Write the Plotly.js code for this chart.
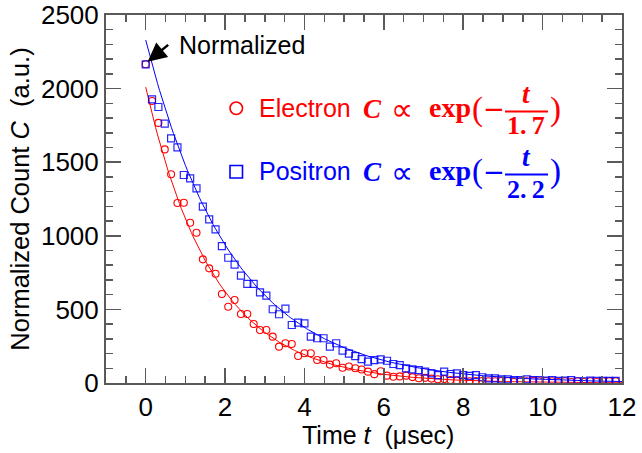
<!DOCTYPE html>
<html>
<head>
<meta charset="utf-8">
<script src="https://cdn.plot.ly/plotly-3.0.1.min.js"></script>
<style>html,body{margin:0;padding:0;background:#fff;}</style>
</head>
<body>
<div id="chart" style="width:642px;height:453px;"></div>
<script>
// Time bins (μsec)
const timeUs = [0,0.16,0.32,0.48,0.64,0.8,0.96,1.12,1.28,1.44,1.6,1.76,1.92,2.08,2.24,2.4,2.56,2.72,2.88,3.04,3.2,3.36,3.52,3.68,3.84,4,4.16,4.32,4.48,4.64,4.8,4.96,5.12,5.28,5.44,5.6,5.76,5.92,6.08,6.24,6.4,6.56,6.72,6.88,7.04,7.2,7.36,7.52,7.68,7.84,8,8.16,8.32,8.48,8.64,8.8,8.96,9.12,9.28,9.44,9.6,9.76,9.92,10.08,10.24,10.4,10.56,10.72,10.88,11.04,11.2,11.36,11.52,11.68,11.84];

// Normalized counts
const electronCounts = [2165,1916,1767,1587,1418,1223,1225,1089,1021,840,779,742,605,518,564,469,469,401,360,360,315,247,270,265,183,202,202,156,156,125,134,104,112,100,92,77,60,80,50,42,45,50,40,32,35,30,25,27,20,16,14,12,14,14,12,12,14,14,7,12,12,16,12,14,12,7,12,7,12,7,12,7,12,12,12];
const positronCounts = [2165,1927,1875,1762,1662,1601,1413,1390,1322,1198,1112,1044,930,851,804,729,673,673,616,593,501,467,505,394,410,405,315,304,304,247,270,220,200,183,162,145,156,161,151,129,122,100,93,88,77,66,54,77,61,66,54,48,54,39,32,32,25,25,20,20,25,20,20,16,20,14,16,20,12,12,16,14,14,14,14];

// Fit model parameters: C = A exp(-t/tau)
const fitNames = ['Electron', 'Positron'];
const fitAmplitude = [2010, 2330];
const fitTau = [1.7, 2.2];
const fitDenomText = ['1.\u20097', '2.\u20092'];
const fitTmax = 12;

const xTickVals = [0,2,4,6,8,10,12];
const yTickVals = [0,500,1000,1500,2000,2500];

function fitCurve(A, tau) {
  const xs = [], ys = [];
  for (let k = 0; k <= 240; k++) {
    const tt = fitTmax * k / 240;
    xs.push(tt); ys.push(A * Math.exp(-tt / tau));
  }
  return {xs, ys};
}
const fe = fitCurve(fitAmplitude[0], fitTau[0]);
const fp = fitCurve(fitAmplitude[1], fitTau[1]);

const RED = '#ff0000', BLUE = '#0000ff';
const traces = [
  {x: fe.xs, y: fe.ys, mode: 'lines', line: {color: RED, width: 1}, name: 'Electron fit', showlegend: false, hoverinfo: 'skip'},
  {x: timeUs, y: electronCounts, mode: 'markers', name: 'Electron', showlegend: false,
   marker: {symbol: 'circle-open', size: 7, color: RED, line: {width: 1.1, color: RED}}},
  {x: fp.xs, y: fp.ys, mode: 'lines', line: {color: BLUE, width: 1}, name: 'Positron fit', showlegend: false, hoverinfo: 'skip'},
  {x: timeUs, y: positronCounts, mode: 'markers', name: 'Positron', showlegend: false,
   marker: {symbol: 'square-open', size: 7, color: 'rgba(0,0,255,0.85)', line: {width: 1.2, color: 'rgba(0,0,255,0.85)'}}}
];

// plot-area pixel helpers (layout positioning only)
const L = 106, R = 20, T = 15, B = 70, W = 642, H = 453;
const pw = W - L - R, ph = H - T - B;
const xp = px => (px - L) / pw;
const yp = py => (H - B - py) / ph;

const SANS = 'Liberation Sans, Arial, sans-serif';
const SERIF = 'Liberation Serif, Times New Roman, serif';

function ann(text, px, py, font, xanchor) {
  return {text, xref: 'paper', yref: 'paper', x: xp(px), y: yp(py), xanchor: xanchor || 'left', yanchor: 'middle', showarrow: false, font};
}

function legendRow(label, color, denom, cy) {
  const a = [];
  a.push(ann(label, 257, cy, {family: SANS, size: 25, color}));
  a.push(ann('<b><i>C</i></b>', 361, cy + 1, {family: SERIF, size: 27, color}));
  a.push(ann('\u221D', 389, cy + 1, {family: 'DejaVu Sans, sans-serif', size: 31, color}));
  a.push(ann('<b>exp</b>', 427, cy - 1, {family: SERIF, size: 28, color}));
  a.push(ann('(', 470, cy + 1, {family: SERIF, size: 33, color}));
  a.push(ann('\u2212', 481, cy + 1, {family: 'DejaVu Sans, sans-serif', size: 26, color}));
  a.push(ann('<b><i>t</i></b>', 526, cy - 14, {family: SERIF, size: 27, color}, 'center'));
  a.push(ann('<b>' + denom + '</b>', 526, cy + 18, {family: SERIF, size: 26, color}, 'center'));
  a.push(ann(')', 548, cy + 1, {family: SERIF, size: 33, color}));
  return a;
}

const annotations = [
  ...legendRow(fitNames[0], RED, fitDenomText[0], 108),
  ...legendRow(fitNames[1], BLUE, fitDenomText[1], 171),
  ann('Normalized', 177, 45, {family: SANS, size: 25, color: '#000'}),
  {text: '', x: 0.05, y: 2183, xref: 'x', yref: 'y', showarrow: true,
   ax: 22, ay: -18, axref: 'pixel', ayref: 'pixel', arrowhead: 2, arrowsize: 1.5, arrowwidth: 2.5, arrowcolor: '#000'},
  ann('Time <i>t</i>\u00A0\u00A0(μsec)', 377.5, 435, {family: SANS, size: 25, color: '#000'}, 'center')
];

const shapes = [
  {type: 'circle', xref: 'paper', yref: 'paper', x0: xp(230), x1: xp(242.5), y0: yp(114.5), y1: yp(102), line: {color: RED, width: 1.6}},
  {type: 'rect', xref: 'paper', yref: 'paper', x0: xp(230), x1: xp(242.5), y0: yp(178), y1: yp(165.5), line: {color: BLUE, width: 1.6}},
  {type: 'line', xref: 'paper', yref: 'paper', x0: xp(505), x1: xp(548), y0: yp(111.5), y1: yp(111.5), line: {color: RED, width: 2.2}},
  {type: 'line', xref: 'paper', yref: 'paper', x0: xp(505), x1: xp(548), y0: yp(174.5), y1: yp(174.5), line: {color: BLUE, width: 2.2}}
];

const AX = '#5a5a5a';
const axisCommon = {
  ticks: 'inside', ticklen: 15, tickwidth: 1.5, tickcolor: AX,
  showline: true, linecolor: AX, linewidth: 2, mirror: 'ticks',
  showgrid: false, zeroline: false,
  tickfont: {family: SANS, size: 26, color: '#000'}
};

const layout = {
  width: W, height: H,
  margin: {l: L, r: R, t: T, b: B, pad: 0},
  paper_bgcolor: '#fff', plot_bgcolor: '#fff',
  showlegend: false,
  xaxis: Object.assign({}, axisCommon, {
    range: [-1, 12], tickmode: 'array', tickvals: xTickVals, ticktext: xTickVals.map(String),
    minor: {dtick: 0.5, tick0: 0, ticks: 'inside', ticklen: 7, tickwidth: 1.5, tickcolor: AX}
  }),
  yaxis: Object.assign({}, axisCommon, {
    range: [0, 2500], tickmode: 'array', tickvals: yTickVals, ticktext: yTickVals.map(String),
    minor: {dtick: 100, tick0: 0, ticks: 'inside', ticklen: 7, tickwidth: 1.5, tickcolor: AX},
    title: {text: 'Normalized Count <i>C</i>\u00A0\u00A0(a.u.)', font: {family: SANS, size: 25.5, color: '#000'}, standoff: 4}
  }),
  annotations, shapes
};

Plotly.newPlot('chart', traces, layout, {staticPlot: true, displayModeBar: false});
</script>
</body>
</html>
